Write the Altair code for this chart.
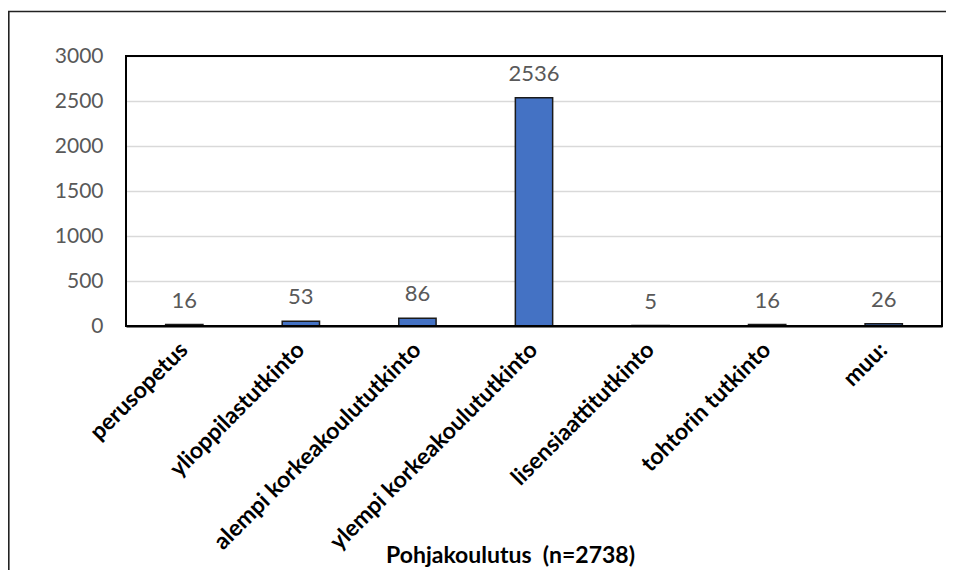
import altair as alt
import pandas as pd

categories = ["perusopetus", "ylioppilastutkinto", "alempi korkeakoulututkinto",
              "ylempi korkeakoulututkinto", "lisensiaattitutkinto", "tohtorin tutkinto", "muu:"]
counts = [16, 53, 86, 2536, 5, 16, 26]
y_ticks = [0, 500, 1000, 1500, 2000, 2500, 3000]
x_title = "Pohjakoulutus \u00a0(n=2738)"

df = pd.DataFrame({"cat": categories, "n": counts})
FONT = "Lato"
W, H = 816, 270

x = alt.X(
    "cat:N", sort=categories, title=x_title,
    scale=alt.Scale(paddingInner=0.68, paddingOuter=0.34),
    axis=alt.Axis(
        labelAngle=-45, labelAlign="right", labelBaseline="middle",
        labelFont=FONT, labelFontSize=23, labelFontWeight="bold", labelColor="black",
        labelPadding=20, labelLimit=0, ticks=False,
        domainColor="black", domainWidth=2,
        titleFont=FONT, titleFontSize=23, titleFontWeight="bold", titleColor="black",
        titleX=384, titleY=229, titleBaseline="middle", titleAlign="center",
    ),
)
y = alt.Y(
    "n:Q", scale=alt.Scale(domain=[0, 3000]),
    axis=alt.Axis(
        values=y_ticks, format="d", title=None, domain=False, ticks=False,
        gridColor="#d9d9d9", gridWidth=1.3,
        labelFont=FONT, labelFontSize=21, labelColor="#595959", labelPadding=23,
    ),
)

base = alt.Chart(df)
bars = base.mark_bar(color="#4472C4", stroke="#1a1a1a", strokeWidth=1.5).encode(x=x, y=y)
labels = base.mark_text(font=FONT, fontSize=22, color="#595959", baseline="alphabetic", dy=-17).encode(
    x=alt.X("cat:N", sort=categories), y="n:Q", text="n:Q"
)

frame = alt.Data(values=[{"a": 1}])
plot_border = alt.Chart(frame).mark_rect(fillOpacity=0, stroke="black", strokeWidth=2).encode(
    x=alt.value(0), x2=alt.value(W), y=alt.value(0), y2=alt.value(H)
)
left_border = alt.Chart(frame).mark_rule(color="#222222", strokeWidth=1.6).encode(
    x=alt.value(-117.2), y=alt.value(-44.5), y2=alt.value(H + 244)
)
top_border = alt.Chart(frame).mark_rule(color="#222222", strokeWidth=1.4).encode(
    x=alt.value(-118), x2=alt.value(W + 4), y=alt.value(-44.5)
)

chart = alt.layer(bars, labels, plot_border, left_border, top_border).properties(
    width=W, height=H,
    background="white",
    autosize=alt.AutoSizeParams(type="none"),
    padding={"left": 118, "top": 48, "right": 4, "bottom": 244},
).configure_view(strokeWidth=0)

chart.save("out.html", embed_options={"renderer": "svg", "actions": False})
